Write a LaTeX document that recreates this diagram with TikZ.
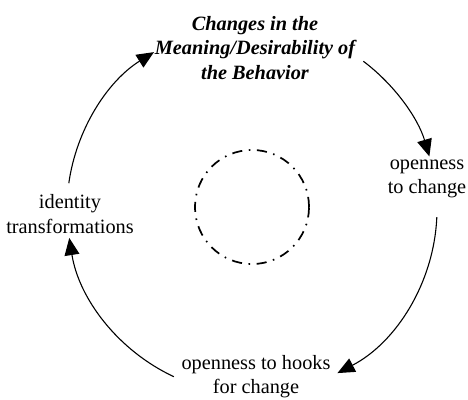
\documentclass[tikz,border=0pt]{standalone}
\usepackage{fontspec}
\setmainfont{Liberation Serif}
\usetikzlibrary{calc}
\usetikzlibrary{arrows.meta}

\tikzset{
  cyc/.style={black, line width=.7pt, -{Triangle[length=11pt,width=9.5pt]}},
  lbl/.style={align=center, font=\fontsize{13}{15.5}\selectfont, inner sep=0pt}
}

\begin{document}
\begin{tikzpicture}[x=.64pt, y=.64pt]
\useasboundingbox (0,0) rectangle (468,399);
\coordinate (O) at (252,190);
\node [lbl, font=\fontsize{13}{15.5}\selectfont\bfseries\itshape] (top) at (255,351)
  {Changes in the\\Meaning/Desirability of\\the Behavior};
\node [lbl] (right) at (427,220) {openness\\to change};
\node [lbl] (bottom) at (256,22) {openness to hooks\\for change};
\node [lbl] (left) at (70,185) {identity\\transformations};
\node [draw, circle, minimum size=73pt, inner sep=0pt, line width=1.1pt,
  dash pattern=on 6.5pt off 4.2pt on 1pt off 4.2pt] (hub) at (252,192) {};
% the cycle
\coordinate (a1) at ($(O)+(172:185)$);
\coordinate (a2) at ($(O)+(53:185)$);
\coordinate (a3) at ($(O)+(-2.5:185)$);
\coordinate (a4) at ($(O)+(-115:185)$);
\draw[cyc] (a1) arc[start angle=172, end angle=122, radius=185];
\draw[cyc] (a2) arc[start angle=53, end angle=16.5, radius=185];
\draw[cyc] (a3) arc[start angle=-2.5, end angle=-62.5, radius=185];
\draw[cyc] (a4) arc[start angle=-115, end angle=-171, radius=185];
\end{tikzpicture}
\end{document}
